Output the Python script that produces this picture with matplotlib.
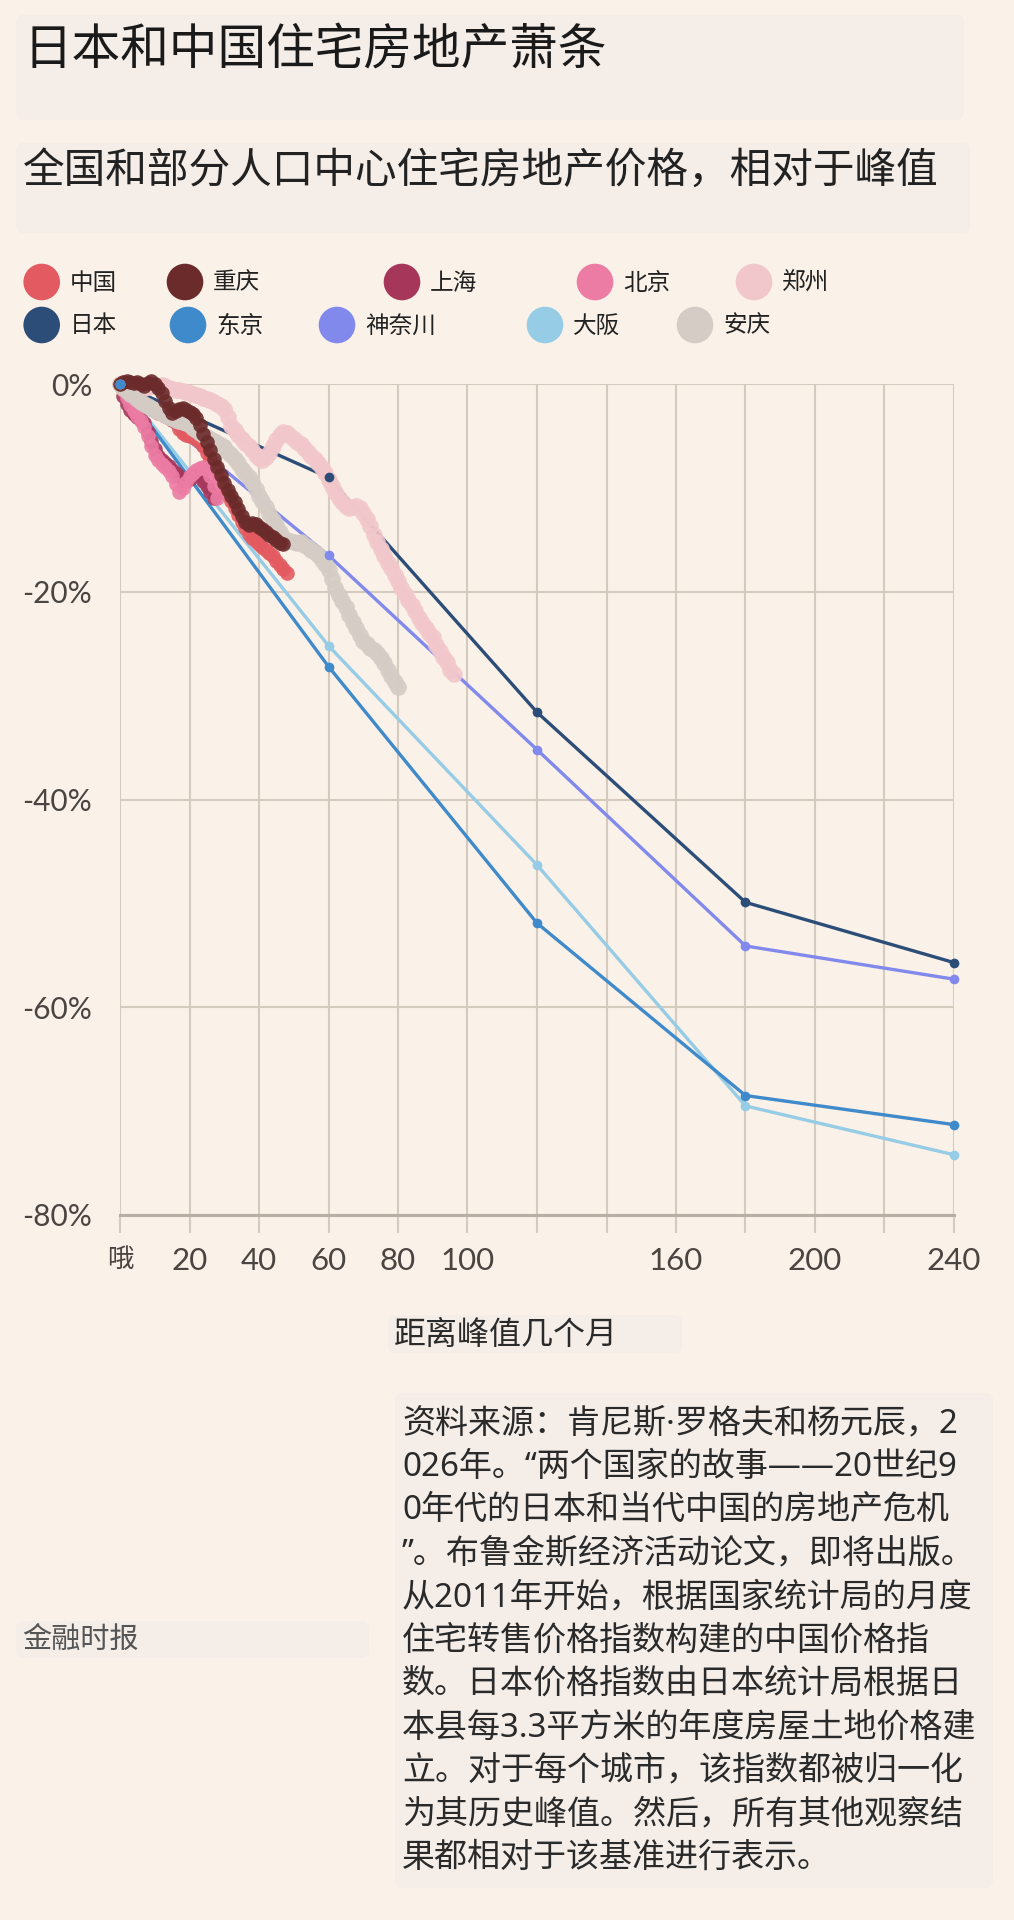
import matplotlib
matplotlib.use("Agg")
import matplotlib.pyplot as plt
from matplotlib.patches import Circle, FancyBboxPatch

# ---- data: % change from peak, x = months since peak ----
# Japan (annual prefecture land prices)
jp_months = [0, 60, 120, 180, 240]
japan = [0, -9.0, -31.6, -49.9, -55.7]
tokyo = [0, -27.2, -51.9, -68.5, -71.3]
kanagawa = [0, -16.5, -35.2, -54.1, -57.3]
osaka = [0, -25.2, -46.3, -69.5, -74.2]

# China (monthly resale index), one value per month from the peak
china = [0.0, -0.5, -0.8, -1.1, -1.3, -1.5, -1.8, -2.0, -2.2, -2.4, -2.6, -2.8,
         -2.9, -3.1, -3.3, -3.5, -3.7, -4.3, -4.7, -4.9, -5.0, -5.1, -5.3, -5.6,
         -6.0, -6.6, -7.2, -7.9, -8.6, -9.3, -10.0, -10.7, -11.3, -11.9, -12.6, -13.3,
         -13.9, -14.4, -14.8, -15.1, -15.4, -15.7, -16.0, -16.3, -16.6, -17.0, -17.4, -17.8,
         -18.2]
chongqing = [0.0, 0.2, 0.3, 0.2, 0.1, 0.2, 0.0, -0.2, 0.1, 0.3, 0.0, -0.4,
             -0.9, -1.6, -2.3, -2.8, -2.6, -2.4, -2.3, -2.5, -2.7, -2.9, -3.3, -3.9,
             -4.8, -5.6, -6.4, -7.2, -8.0, -8.8, -9.5, -10.2, -10.8, -11.4, -12.0, -12.7,
             -13.3, -13.6, -13.4, -13.5, -13.8, -14.0, -14.2, -14.5, -14.7, -15.0, -15.3, -15.4]
shanghai = [0.0, -1.2, -1.9, -2.5, -2.9, -3.2, -3.5, -3.8, -4.6, -5.5, -6.3, -6.9,
            -7.3, -7.6, -7.9, -8.3, -8.6, -8.9, -9.2, -9.3, -9.1, -8.8, -8.7, -8.9,
            -9.3, -9.8, -10.4, -11.0]
beijing = [0.0, -0.6, -1.3, -2.0, -2.6, -3.1, -3.6, -4.1, -5.0, -6.0, -6.8, -7.3,
           -7.7, -8.0, -8.4, -8.9, -9.6, -10.4, -10.0, -9.4, -8.9, -8.6, -8.3, -8.1,
           -8.0, -8.3, -8.9, -9.8, -11.0]
zhengzhou = [0.0, -0.1, 0.0, -0.2, -0.1, -0.3, -0.2, -0.4, -0.3, -0.2, -0.1, -0.2,
             -0.1, -0.2, -0.4, -0.5, -0.6, -0.6, -0.7, -0.8, -0.9, -1.0, -1.1, -1.2,
             -1.3, -1.4, -1.5, -1.7, -1.9, -2.1, -2.4, -3.2, -4.0, -4.4, -4.9, -5.3,
             -5.7, -6.0, -6.4, -6.8, -7.1, -7.3, -7.0, -6.6, -6.0, -5.4, -4.9, -4.6,
             -4.7, -5.0, -5.3, -5.6, -5.8, -6.2, -6.5, -6.9, -7.2, -7.6, -8.1, -8.6,
             -9.2, -9.8, -10.4, -11.0, -11.4, -11.7, -11.9, -11.8, -11.7, -11.9, -12.4, -13.0,
             -13.7, -14.5, -15.2, -15.9, -16.6, -17.2, -17.7, -18.4, -19.0, -19.6, -20.2, -20.8,
             -21.3, -21.9, -22.5, -23.0, -23.5, -24.0, -24.4, -25.1, -25.7, -26.3, -26.8, -27.5,
             -27.9]
anqing = [0.0, -0.4, -0.7, -1.0, -1.2, -1.4, -1.7, -1.9, -2.1, -2.3, -2.5, -2.7,
          -2.8, -3.0, -3.2, -3.3, -3.5, -3.6, -3.7, -3.8, -3.9, -4.2, -4.4, -4.7,
          -4.9, -5.1, -5.3, -5.5, -5.7, -5.9, -6.1, -6.5, -6.8, -7.2, -7.6, -8.2,
          -8.6, -9.0, -9.4, -10.1, -10.8, -11.3, -11.8, -12.5, -13.1, -13.6, -14.2, -14.8,
          -15.0, -15.1, -15.2, -15.3, -15.2, -15.5, -15.7, -16.0, -16.2, -16.5, -16.9, -17.3,
          -17.9, -18.8, -19.6, -20.3, -20.9, -21.5, -22.2, -22.9, -23.5, -24.2, -24.7, -25.0,
          -25.4, -25.6, -25.9, -26.4, -26.9, -27.5, -28.1, -28.7, -29.2]

x_ticks = [0, 20, 40, 60, 80, 100, 120, 140, 160, 180, 200, 220, 240]
x_labels = ["哦", "20", "40", "60", "80", "100", "", "", "160", "", "200", "", "240"]
y_ticks = [-80, -60, -40, -20, 0]
y_labels = ["-80%", "-60%", "-40%", "-20%", "0%"]

legend_names = ["中国", "重庆", "上海", "北京", "郑州", "日本", "东京", "神奈川", "大阪", "安庆"]

title = "日本和中国住宅房地产萧条"
subtitle = "全国和部分人口中心住宅房地产价格，相对于峰值"
xlabel = "距离峰值几个月"
footer = "金融时报"
source_lines = [
    "资料来源：肯尼斯·罗格夫和杨元辰，2",
    "026年。“两个国家的故事——20世纪9",
    "0年代的日本和当代中国的房地产危机",
    "”。布鲁金斯经济活动论文，即将出版。",
    "从2011年开始，根据国家统计局的月度",
    "住宅转售价格指数构建的中国价格指",
    "数。日本价格指数由日本统计局根据日",
    "本县每3.3平方米的年度房屋土地价格建",
    "立。对于每个城市，该指数都被归一化",
    "为其历史峰值。然后，所有其他观察结",
    "果都相对于该基准进行表示。",
]

# ---- styles ----
BG = "#FAF1E8"
BOX = "#F4EDE8"
GRID = "#D5CABE"
colors = {
    "中国": "#E35A60", "重庆": "#6B2B2B", "上海": "#A6375B", "北京": "#EC7CA4",
    "郑州": "#F2C7CB", "日本": "#2C4D78", "东京": "#3F8ACA", "神奈川": "#8189EC",
    "大阪": "#96CCE5", "安庆": "#D4CCC5",
}
CJK = ["Noto Sans CJK SC", "DejaVu Sans"]
MIXED = ["Noto Sans", "Noto Sans CJK SC"]   # proportional latin punctuation, CJK fallback
plt.rcParams["font.family"] = ["Lato", "Noto Sans CJK SC", "DejaVu Sans"]

W, H = 1014, 1920
fig = plt.figure(figsize=(W / 100, H / 100), dpi=100, facecolor=BG)

# background layer in pixel coordinates (y down)
bg = fig.add_axes([0, 0, 1, 1], zorder=0)
bg.set_xlim(0, W)
bg.set_ylim(H, 0)
bg.axis("off")

for (x0, y0, x1, y1) in [(16, 15, 964, 120), (16, 143, 970, 233), (388, 1315, 682, 1353),
                         (16, 1621, 369, 1658), (395, 1393, 993, 1888)]:
    bg.add_patch(FancyBboxPatch((x0, y0), x1 - x0, y1 - y0,
                                boxstyle="round,pad=0,rounding_size=8",
                                fc=BOX, ec="none"))

bg.text(23, 50, title, fontsize=35, family=CJK, color="#1a1a1a", va="center", ha="left")
bg.text(23, 172, subtitle, fontsize=30, family=CJK, color="#222222", va="center", ha="left")

leg_x = [41.7, 185, 402, 595, 754, 41.7, 188, 337, 545, 695]
leg_y = [282] * 5 + [325] * 5
for name, cx, cy in zip(legend_names, leg_x, leg_y):
    bg.add_patch(Circle((cx, cy), 18.3, fc=colors[name], ec="none"))
    bg.text(cx + 28, cy + 1, name, fontsize=17, family=CJK, color="#222222",
            va="center", ha="left")

bg.text(394, 1335, xlabel, fontsize=23, family=CJK, color="#2a2a2a", va="center", ha="left")
bg.text(22, 1640, footer, fontsize=21, family=CJK, color="#555555", va="center", ha="left")
for i, line in enumerate(source_lines):
    bg.text(402, 1424 + i * 43.4, line, fontsize=23.8, family=MIXED, color="#2a2a2a",
            va="center", ha="left")

# ---- main chart ----
ax = fig.add_axes([120 / W, 1 - 1215 / H, 834 / W, 831 / H], zorder=1)
ax.set_facecolor("none")
ax.set_xlim(0, 240)
ax.set_ylim(-80, 0)

ax.set_xticks(x_ticks)
ax.set_xticklabels(x_labels)
ax.set_yticks(y_ticks)
ax.set_yticklabels(y_labels)
ax.grid(True, color=GRID, lw=1.5, zorder=0)
ax.set_axisbelow(True)
for s in ["top", "right", "left"]:
    ax.spines[s].set_visible(False)
ax.spines["bottom"].set_color("#B9AEA3")
ax.spines["bottom"].set_linewidth(2.2)
ax.tick_params(axis="x", length=13, width=1.5, color=GRID, pad=10,
               labelsize=22.5, labelcolor="#4a4541")
ax.tick_params(axis="y", length=0, pad=20, labelsize=21.5, labelcolor="#4a4541")
ax.get_xticklabels()[0].set_fontsize(19)

# Japanese series: lines below, markers on top
for name, vals in [("日本", japan), ("神奈川", kanagawa), ("大阪", osaka), ("东京", tokyo)]:
    ax.plot(jp_months, vals, color=colors[name], lw=2.4, zorder=2, solid_capstyle="round")
    ax.plot(jp_months, vals, ls="none", marker="o", ms=7, color=colors[name],
            mec="none", zorder=6, clip_on=False)

# Chinese series: dense monthly dots
for name, vals, size in [("郑州", zhengzhou, 12), ("中国", china, 10.5),
                         ("上海", shanghai, 10.5), ("北京", beijing, 10.5),
                         ("安庆", anqing, 12), ("重庆", chongqing, 10.5)]:
    ax.plot(range(len(vals)), vals, ls="none", marker="o", ms=size,
            color=colors[name], mec="none", alpha=0.9, zorder=3, clip_on=False)

fig.savefig("out.png", dpi=100, facecolor=BG)
